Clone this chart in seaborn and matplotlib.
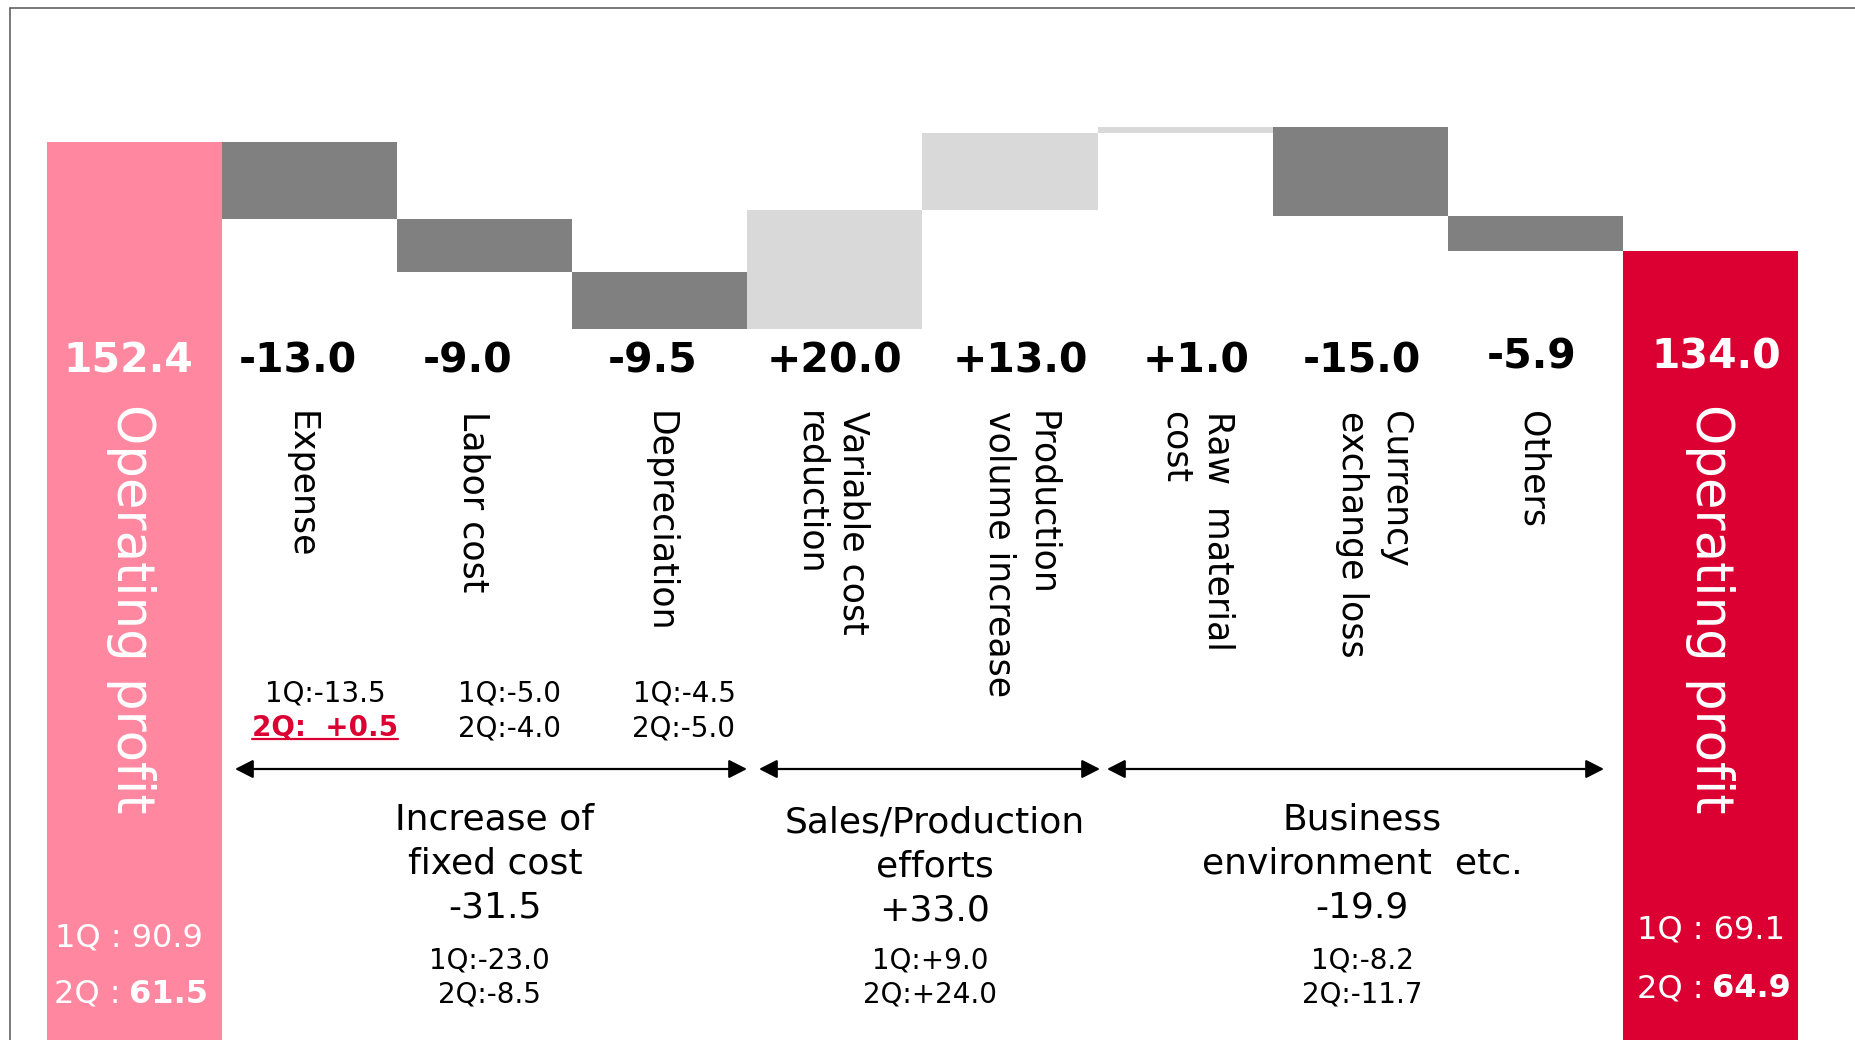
import matplotlib
matplotlib.use("Agg")
import matplotlib.pyplot as plt
from matplotlib.lines import Line2D
import pandas as pd
import seaborn as sns

# ---------------- data ----------------
start_value = 152.4
end_value = 134.0
total_label = "Operating profit"
start_quarters = [90.9, 61.5]
end_quarters = [69.1, 64.9]

factor_names = ["Expense", "Labor cost", "Depreciation", "Variable cost\nreduction",
                "Production\nvolume increase", "Raw  material\ncost",
                "Currency\nexchange loss", "Others"]
factor_changes = [-13.0, -9.0, -9.5, 20.0, 13.0, 1.0, -15.0, -5.9]

fixed_cost_q1 = [-13.5, -5.0, -4.5]
fixed_cost_q2 = [0.5, -4.0, -5.0]

group_names = ["Increase of\nfixed cost", "Sales/Production\nefforts",
               "Business\nenvironment  etc."]
group_totals = [-31.5, 33.0, -19.9]
group_q1 = [-23.0, 9.0, -8.2]
group_q2 = [-8.5, 24.0, -11.7]

# ---------------- colours ----------------
PINK = "#FF88A0"
RED = "#DC0032"
DOWN = "#808080"
UP = "#D9D9D9"

# ---------------- layout (pixels of the 1856x1040 canvas) ----------------
W, H = 1856, 1040
BAR_LEFT_PX, BAR_W_PX = 47.0, 175.1
XL = -0.5 - BAR_LEFT_PX / BAR_W_PX
XR = -0.5 + (W - BAR_LEFT_PX) / BAR_W_PX
PX_PER_UNIT, ZERO_PX = 5.93, 1045.6
YB = (ZERO_PX - H) / PX_PER_UNIT
YT = ZERO_PX / PX_PER_UNIT


def X(px):
    return XL + px / W * (XR - XL)


def Y(py):
    return YT - py / H * (YT - YB)


sns.set_theme(style="white")
plt.rcParams["font.family"] = ["DejaVu Sans"]

fig = plt.figure(figsize=(W / 100, H / 100), dpi=100)
ax = fig.add_axes([0, 0, 1, 1])

# ---------------- waterfall table ----------------
labels = [total_label] + factor_names + [total_label]
keys = [f"{i}:{lab}" for i, lab in enumerate(labels)]
heights, bottoms, colors = [start_value], [0.0], [PINK]
running = start_value
for c in factor_changes:
    new = running + c
    bottoms.append(min(running, new))
    heights.append(abs(c))
    colors.append(DOWN if c < 0 else UP)
    running = new
heights.append(end_value)
bottoms.append(0.0)
colors.append(RED)

df = pd.DataFrame({"step": keys, "height": heights})
sns.barplot(data=df, x="step", y="height", hue="step", order=keys, hue_order=keys,
            palette=dict(zip(keys, colors)), width=1.0, saturation=1,
            linewidth=0, edgecolor="none", legend=False, ax=ax)
for patch, b in zip(sorted(ax.patches, key=lambda p: p.get_x()), bottoms):
    patch.set_y(b)
    patch.set_antialiased(False)

ax.set_xlim(XL, XR)
ax.set_ylim(YB, YT)
ax.set_axis_off()

# ---------------- value labels over each step ----------------
value_texts = ([f"{start_value:.1f}"] + [f"{c:+.1f}" for c in factor_changes]
               + [f"{end_value:.1f}"])
value_dx_px = [-6, -12, -17, -7, 0, 10, 11, 2, -4, 6]
value_base_px = [372] * 8 + [368, 368]
for i, txt in enumerate(value_texts):
    ax.text(i + value_dx_px[i] / BAR_W_PX, Y(value_base_px[i]), txt,
            ha="center", va="baseline", fontsize=29.5, fontweight="bold",
            color="white" if i in (0, len(value_texts) - 1) else "black")

# ---------------- rotated category names ----------------
name_center_px = [131, 301, 474, 660, 832, 1021, 1197, 1374, 1533, 1710]
LINE_PX = 43
for i, lab in enumerate(labels):
    is_total = i in (0, len(labels) - 1)
    lines = lab.split("\n")
    n = len(lines)
    for k, line in enumerate(lines):
        cx = name_center_px[i] + (n - 1) / 2 * LINE_PX - k * LINE_PX
        ax.text(X(cx), Y(404 if is_total else 411), line, rotation=-90,
                ha="center", va="top",
                fontsize=37 if is_total else 25,
                color="white" if is_total else "black")

# ---------------- quarterly split of fixed-cost items ----------------
item_center_px = [325, 510, 684]
underlined = []
for j in range(len(fixed_cost_q1)):
    ax.text(X(item_center_px[j]), Y(701), f"1Q:{fixed_cost_q1[j]:+.1f}",
            ha="center", va="baseline", fontsize=20, color="black")
    if fixed_cost_q2[j] > 0:
        t = ax.text(X(item_center_px[j]), Y(736), f"2Q:  {fixed_cost_q2[j]:+.1f}",
                    ha="center", va="baseline", fontsize=20, fontweight="bold",
                    color=RED)
        underlined.append(t)
    else:
        ax.text(X(item_center_px[j]), Y(736), f"2Q:{fixed_cost_q2[j]:+.1f}",
                ha="center", va="baseline", fontsize=20, color="black")

# ---------------- group brackets ----------------
arrow_px = [(235, 747), (759, 1100), (1107, 1604)]
for x0, x1 in arrow_px:
    ax.annotate("", xy=(X(x1), Y(769)), xytext=(X(x0), Y(769)),
                arrowprops=dict(arrowstyle="<|-|>,head_length=0.55,head_width=0.28",
                                mutation_scale=20, lw=1.6, color="black",
                                shrinkA=0, shrinkB=0))

group_center_px = [495, 935, 1362]
group_sub_px = [489, 930, 1362]
group_shift_px = [0, 3, 0]
for g, name in enumerate(group_names):
    lines = name.split("\n") + [f"{group_totals[g]:+.1f}"]
    for k, line in enumerate(lines):
        ax.text(X(group_center_px[g]), Y(829 + group_shift_px[g] + 44 * k), line,
                ha="center", va="baseline", fontsize=26, color="black")
    ax.text(X(group_sub_px[g]), Y(969), f"1Q:{group_q1[g]:+.1f}",
            ha="center", va="baseline", fontsize=20, color="black")
    ax.text(X(group_sub_px[g]), Y(1003), f"2Q:{group_q2[g]:+.1f}",
            ha="center", va="baseline", fontsize=20, color="black")

# ---------------- quarterly split of the totals ----------------
total_specs = [(0, start_quarters, 129, 125, 946, 1003),
               (len(labels) - 1, end_quarters, 1711, 1708, 938, 997)]
for _, quarters, c1, csplit, b1, b2 in total_specs:
    ax.text(X(c1), Y(b1), f"1Q : {quarters[0]:.1f}", ha="center", va="baseline",
            fontsize=23, color="white")
    ax.text(X(csplit - 4), Y(b2), "2Q :", ha="right", va="baseline",
            fontsize=23, color="white")
    ax.text(X(csplit + 4), Y(b2), f"{quarters[1]:.1f}", ha="left", va="baseline",
            fontsize=23, fontweight="bold", color="white")

# ---------------- page frame ----------------
fig.add_artist(Line2D([10.5 / W, 1.0], [1 - 7.5 / H, 1 - 7.5 / H],
                      transform=fig.transFigure, color="#555555", lw=1.1))
fig.add_artist(Line2D([10.5 / W, 10.5 / W], [1 - 7.5 / H, 0.0],
                      transform=fig.transFigure, color="#555555", lw=1.1))

# underline of the highlighted quarter value
fig.canvas.draw()
renderer = fig.canvas.get_renderer()
for t in underlined:
    bb = t.get_window_extent(renderer)
    y_line = (H - 739) / H
    fig.add_artist(Line2D([bb.x0 / W, bb.x1 / W], [y_line, y_line],
                          transform=fig.transFigure, color=RED, lw=1.6))

fig.savefig("out.png", dpi=100)
